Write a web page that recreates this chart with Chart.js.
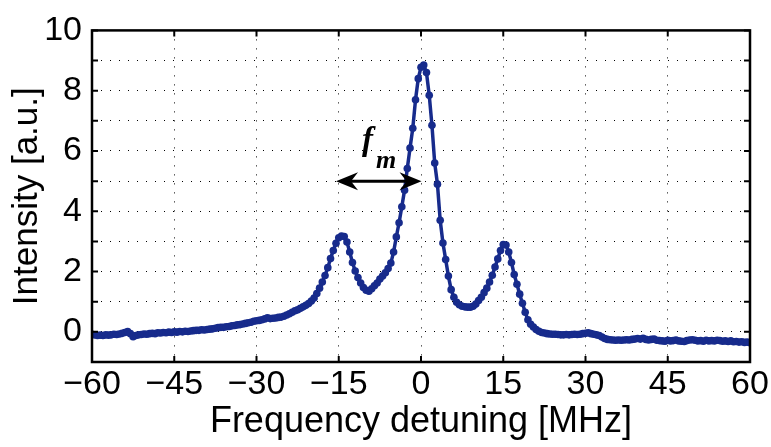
<!DOCTYPE html>
<html>
<head>
<title>Spectrum</title>
<script src="https://cdn.jsdelivr.net/npm/chart.js@4.4.1/dist/chart.umd.min.js"></script>
<style>
body { margin: 0; background: #fff; }
</style>
</head>
<body>
<canvas id="spec" width="771" height="447"></canvas>

<script>
// frequency detuning [MHz], 0.5 MHz steps
var freq = [
 -60,-59.5,-59,-58.5,-58,-57.5,-57,-56.5,-56,-55.5,-55,-54.5,-54,-53.5,-53,-52.5,-52,-51.5,-51,-50.5,
 -50,-49.5,-49,-48.5,-48,-47.5,-47,-46.5,-46,-45.5,-45,-44.5,-44,-43.5,-43,-42.5,-42,-41.5,-41,-40.5,
 -40,-39.5,-39,-38.5,-38,-37.5,-37,-36.5,-36,-35.5,-35,-34.5,-34,-33.5,-33,-32.5,-32,-31.5,-31,-30.5,
 -30,-29.5,-29,-28.5,-28,-27.5,-27,-26.5,-26,-25.5,-25,-24.5,-24,-23.5,-23,-22.5,-22,-21.5,-21,-20.5,
 -20,-19.5,-19,-18.5,-18,-17.5,-17,-16.5,-16,-15.5,-15,-14.5,-14,-13.5,-13,-12.5,-12,-11.5,-11,-10.5,
 -10,-9.5,-9,-8.5,-8,-7.5,-7,-6.5,-6,-5.5,-5,-4.5,-4,-3.5,-3,-2.5,-2,-1.5,-1,-0.5,
 0,0.5,1,1.5,2,2.5,3,3.5,4,4.5,5,5.5,6,6.5,7,7.5,8,8.5,9,9.5,
 10,10.5,11,11.5,12,12.5,13,13.5,14,14.5,15,15.5,16,16.5,17,17.5,18,18.5,19,19.5,
 20,20.5,21,21.5,22,22.5,23,23.5,24,24.5,25,25.5,26,26.5,27,27.5,28,28.5,29,29.5,
 30,30.5,31,31.5,32,32.5,33,33.5,34,34.5,35,35.5,36,36.5,37,37.5,38,38.5,39,39.5,
 40,40.5,41,41.5,42,42.5,43,43.5,44,44.5,45,45.5,46,46.5,47,47.5,48,48.5,49,49.5,
 50,50.5,51,51.5,52,52.5,53,53.5,54,54.5,55,55.5,56,56.5,57,57.5,58,58.5,59,59.5,
 60
];

// intensity [a.u.]
var intensity = [
 -0.08,-0.1,-0.12,-0.11,-0.12,-0.1,-0.11,-0.1,-0.08,-0.09,-0.07,-0.05,-0.02,0.01,-0.06,-0.16,-0.12,-0.1,-0.09,-0.07,
 -0.08,-0.06,-0.05,-0.06,-0.03,-0.04,-0.02,-0.03,-0.01,-0.02,0,-0.01,0.01,0,0.02,0.01,0.03,0.04,0.05,0.05,
 0.07,0.06,0.08,0.09,0.1,0.12,0.14,0.15,0.15,0.17,0.18,0.2,0.21,0.23,0.24,0.26,0.28,0.3,0.32,0.35,
 0.37,0.38,0.4,0.43,0.47,0.44,0.45,0.46,0.48,0.49,0.52,0.56,0.6,0.65,0.7,0.73,0.78,0.83,0.88,0.94,
 1.02,1.12,1.27,1.45,1.65,1.87,2.13,2.43,2.7,2.94,3.12,3.18,3.16,2.98,2.65,2.3,2.02,1.8,1.62,1.47,
 1.38,1.35,1.43,1.53,1.62,1.75,1.85,1.96,2.1,2.28,2.65,3.15,3.62,4.15,4.7,5.42,6.1,6.75,7.7,8.4,
 8.78,8.85,8.6,7.85,6.85,5.6,4.9,3.7,2.95,2.4,1.85,1.4,1.15,0.98,0.9,0.85,0.83,0.82,0.82,0.85,
 0.92,1.04,1.15,1.3,1.45,1.65,1.88,2.15,2.42,2.7,2.9,2.88,2.65,2.3,1.9,1.58,1.25,0.95,0.65,0.4,
 0.25,0.16,0.08,0.02,-0.02,-0.04,-0.06,-0.07,-0.08,-0.08,-0.09,-0.1,-0.1,-0.09,-0.1,-0.09,-0.08,-0.09,-0.08,-0.06,
 -0.05,-0.03,-0.06,-0.08,-0.1,-0.12,-0.17,-0.22,-0.25,-0.26,-0.27,-0.28,-0.27,-0.28,-0.27,-0.26,-0.27,-0.25,-0.24,-0.22,
 -0.24,-0.21,-0.25,-0.27,-0.25,-0.24,-0.28,-0.29,-0.3,-0.31,-0.28,-0.3,-0.29,-0.27,-0.3,-0.31,-0.32,-0.29,-0.27,-0.26,
 -0.28,-0.3,-0.29,-0.31,-0.28,-0.3,-0.29,-0.3,-0.28,-0.29,-0.31,-0.3,-0.32,-0.3,-0.33,-0.32,-0.34,-0.33,-0.35,-0.34,
 -0.36
];

var xTicks = [-60, -45, -30, -15, 0, 15, 30, 45, 60];
var yLabels = [0, 2, 4, 6, 8, 10];

// f_m arrow annotation (data units)
var arrowFrom = -15.5, arrowTo = 0.1, arrowY = 5;

var blue = '#172b8c';

var points = freq.map(function (f, i) { return { x: f, y: intensity[i] }; });

function arrowHead(ctx, tipX, y, dir) {
	// dir = +1 points right, -1 points left
	ctx.beginPath();
	ctx.moveTo(tipX, y);
	ctx.lineTo(tipX - dir * 22, y - 9);
	ctx.lineTo(tipX - dir * 15, y);
	ctx.lineTo(tipX - dir * 22, y + 9);
	ctx.closePath();
	ctx.fill();
}

var frame = {
	id: 'frame',
	afterDraw: function (chart) {
		var ctx = chart.ctx, a = chart.chartArea;
		var xs = chart.scales.x, ys = chart.scales.y;
		ctx.save();
		ctx.strokeStyle = '#000';
		ctx.fillStyle = '#000';

		// inward ticks
		ctx.lineWidth = 2;
		ctx.beginPath();
		xTicks.forEach(function (v) {
			var px = xs.getPixelForValue(v);
			ctx.moveTo(px, a.bottom); ctx.lineTo(px, a.bottom - 6);
			ctx.moveTo(px, a.top); ctx.lineTo(px, a.top + 6);
		});
		for (var v = -1; v <= 10; v++) {
			var py = ys.getPixelForValue(v);
			ctx.moveTo(a.left, py); ctx.lineTo(a.left + 6, py);
			ctx.moveTo(a.right, py); ctx.lineTo(a.right - 6, py);
		}
		ctx.stroke();

		// box
		ctx.lineWidth = 2.5;
		ctx.strokeRect(a.left, a.top, a.right - a.left, a.bottom - a.top);

		// double arrow
		var x1 = xs.getPixelForValue(arrowFrom), x2 = xs.getPixelForValue(arrowTo);
		var y = ys.getPixelForValue(arrowY);
		ctx.lineWidth = 3;
		ctx.beginPath();
		ctx.moveTo(x1 + 10, y); ctx.lineTo(x2 - 10, y);
		ctx.stroke();
		arrowHead(ctx, x1, y, -1);
		arrowHead(ctx, x2, y, 1);

		// label f_m
		ctx.textBaseline = 'alphabetic';
		ctx.textAlign = 'left';
		ctx.font = 'italic bold 33px "Liberation Serif", "DejaVu Serif", serif';
		ctx.fillText('f', x1 + 26, y - 31);
		ctx.font = 'italic bold 26px "Liberation Serif", "DejaVu Serif", serif';
		ctx.fillText('m', x1 + 40, y - 13);
		ctx.restore();
	}
};

var ctx = document.getElementById('spec').getContext('2d');
var chart = new Chart(ctx, {
	type: 'scatter',
	data: {
		datasets: [{
			data: points,
			showLine: true,
			borderColor: blue,
			backgroundColor: blue,
			borderWidth: 3.5,
			pointRadius: 3.8,
			pointBorderWidth: 0,
			pointHoverRadius: 3.8,
			tension: 0
		}]
	},
	options: {
		responsive: false,
		animation: false,
		layout: { padding: { top: 12, right: 21, left: 0, bottom: 0 } },
		plugins: { legend: { display: false }, tooltip: { enabled: false } },
		scales: {
			x: {
				type: 'linear',
				min: -60, max: 60,
				afterFit: function (s) { s.height = 85; },
				afterBuildTicks: function (s) { s.ticks = xTicks.map(function (v) { return { value: v }; }); },
				grid: { color: '#000', lineWidth: 1, drawTicks: false },
				border: { display: false, dash: [1, 8] },
				ticks: {
					autoSkip: false,
					maxRotation: 0,
					padding: 2,
					color: '#000',
					font: { family: '"Liberation Sans", Arial, sans-serif', size: 34 },
					callback: function (v) { return String(v).replace('-', '\u2212'); }
				},
				title: {
					display: true,
					text: 'Frequency detuning [MHz]',
					color: '#000',
					font: { family: '"Liberation Sans", Arial, sans-serif', size: 36, lineHeight: 1.2 },
					padding: { top: 0, bottom: 3 }
				}
			},
			y: {
				min: -1, max: 10,
				afterFit: function (s) { s.width = 92; },
				grid: { color: '#000', lineWidth: 1, drawTicks: false },
				border: { display: false, dash: [1, 8] },
				ticks: {
					autoSkip: false,
					stepSize: 1,
					padding: 10,
					color: '#000',
					font: { family: '"Liberation Sans", Arial, sans-serif', size: 34 },
					callback: function (v) { return yLabels.indexOf(v) >= 0 ? String(v) : ''; }
				},
				title: {
					display: true,
					text: 'Intensity [a.u.]',
					color: '#000',
					font: { family: '"Liberation Sans", Arial, sans-serif', size: 35, lineHeight: 1.2 },
					padding: { top: 6, bottom: 0 }
				}
			}
		}
	},
	plugins: [frame]
});
</script>
</body>
</html>
